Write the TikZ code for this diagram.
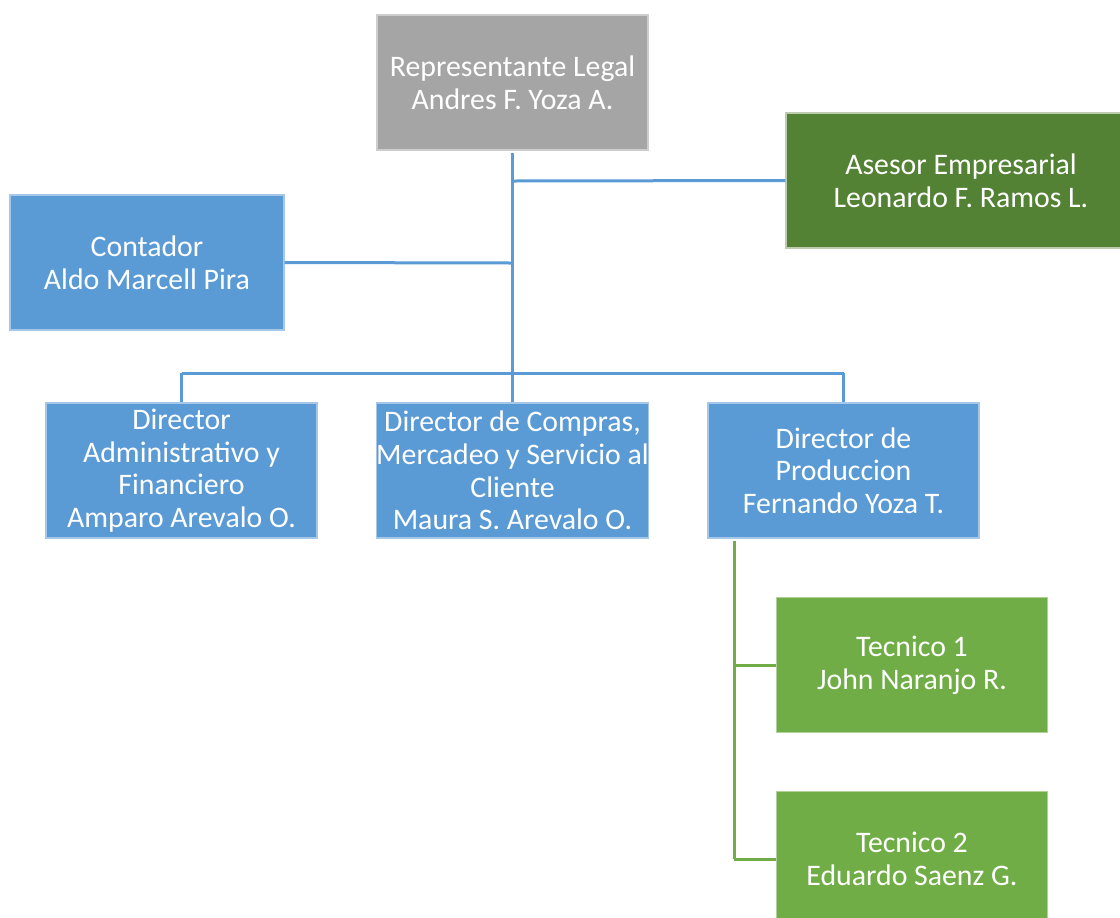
\documentclass[tikz,border=0pt]{standalone}
\usepackage{fontspec}
\setmainfont{Carlito}
\definecolor{boxblue}{HTML}{5B9BD5}
\definecolor{boxgray}{HTML}{A5A5A5}
\definecolor{boxdkgreen}{HTML}{548235}
\definecolor{boxgreen}{HTML}{70AD47}
\tikzset{
  unit/.style={rectangle, inner sep=0pt, align=center, text=white,
    minimum width=135.5pt, minimum height=67.5pt,
    font=\fontsize{14.9}{16.3}\selectfont, line width=0.6pt},
  bluebox/.style={unit, fill=boxblue, draw=boxblue!55!white},
  graybox/.style={unit, fill=boxgray, draw=boxgray!55!white},
  dkgreenbox/.style={unit, fill=boxdkgreen, draw=boxdkgreen!40!white, minimum width=175pt},
  greenbox/.style={unit, fill=boxgreen, draw=boxgreen!55!white},
  link/.style={line width=1.5pt, color=boxblue},
  glink/.style={line width=1.5pt, color=boxgreen}
}
\begin{document}
\begin{tikzpicture}[x=0.5pt,y=-0.5pt]
      \useasboundingbox (0,0) rectangle (1120,917);
      \path
        (512.5,82.5) node[graybox] (rep){Representante Legal\\Andres F. Yoza A.}
        (961,180.5) node[dkgreenbox] (ase){Asesor Empresarial\\Leonardo F. Ramos L.}
        (147,262.5) node[bluebox, minimum width=137pt] (con){Contador\\Aldo Marcell Pira}
        (181.5,470.5) node[bluebox] (dadm){Director\\Administrativo y\\Financiero\\Amparo Arevalo O.}
        (512.5,470.5) node[bluebox] (dcom){Director de Compras,\\Mercadeo y Servicio al\\Cliente\\Maura S. Arevalo O.}
        (843.5,470.5) node[bluebox] (dpro){Director de\\Produccion\\Fernando Yoza T.}
        (912,665) node[greenbox] (tec1){Tecnico 1\\John Naranjo R.}
        (912,859) node[greenbox] (tec2){Tecnico 2\\Eduardo Saenz G.};
      \path
        (512.5,153) coordinate (top)
        (512.5,181) coordinate (kase)
        (512.5,263) coordinate (kcon)
        (512.5,373) coordinate (kmid)
        (181.5,373) coordinate (kl)
        (843.5,373) coordinate (kr)
        (734,541) coordinate (g0)
        (734,665) coordinate (g1)
        (734,859) coordinate (g2);
      \begin{scope}[link]
        \draw (top) to (kmid);
        \draw (kase) to (ase.west);
        \draw (kcon) to (con.east);
        \draw (kl) to (kr);
        \draw (kl) to (dadm.north);
        \draw (kmid) to (dcom.north);
        \draw (kr) to (dpro.north);
      \end{scope}
      \begin{scope}[glink]
        \draw (g0) to (g2);
        \draw (g1) to (tec1.west);
        \draw (g2) to (tec2.west);
      \end{scope}
    \end{tikzpicture}
\end{document}
